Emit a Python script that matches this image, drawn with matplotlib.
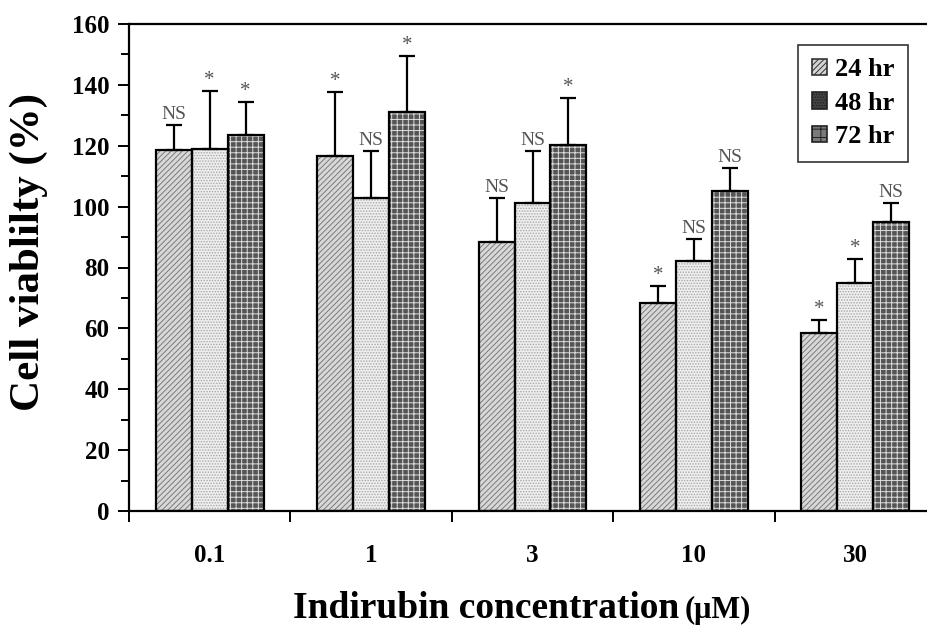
import matplotlib
matplotlib.use("Agg")
import matplotlib.pyplot as plt
from matplotlib.patches import Patch
from matplotlib.ticker import MultipleLocator, FixedLocator
import numpy as np

plt.rcParams['font.family'] = ['Liberation Serif', 'DejaVu Serif']
plt.rcParams['hatch.linewidth'] = 0.7

concentrations = ['0.1', '1', '3', '10', '30']
series = ['24 hr', '48 hr', '72 hr']
means = {
    '24 hr': [118.5, 116.7, 88.5, 68.4, 58.4],
    '48 hr': [118.8, 102.7, 101.2, 82.1, 75.0],
    '72 hr': [123.5, 131.2, 120.2, 105.0, 95.0],
}
errors = {
    '24 hr': [8.3, 21.1, 14.3, 5.6, 4.3],
    '48 hr': [19.2, 15.7, 17.2, 7.4, 7.8],
    '72 hr': [11.0, 18.4, 15.4, 7.8, 6.2],
}
marks = {
    '24 hr': ['NS', '*', 'NS', '*', '*'],
    '48 hr': ['*', 'NS', 'NS', 'NS', '*'],
    '72 hr': ['*', '*', '*', 'NS', 'NS'],
}

styles = {
    '24 hr': dict(face='#d8d8d8', hatch='//////', hcol='#7a7a7a'),
    '48 hr': dict(face='#eeeeee', hatch='......', hcol='#a8a8a8'),
    '72 hr': dict(face='#555555', hatch='+++', hcol='#dddddd'),
}

fig = plt.figure(figsize=(9.27, 6.27), dpi=100)
ax = fig.add_axes([129/927, (627-511)/627, (936-129)/927, (511-24)/627])

x = np.arange(len(concentrations))
w = 0.223
for i, s in enumerate(series):
    pos = x + (i - 1) * w
    st = styles[s]
    ax.bar(pos, means[s], width=w, color=st['face'], hatch=st['hatch'],
           edgecolor=st['hcol'], linewidth=0, zorder=2)
    ax.bar(pos, means[s], width=w, fill=False, edgecolor='black',
           linewidth=1.6, zorder=3)
    ax.errorbar(pos, means[s], yerr=[np.zeros(len(x)), errors[s]], fmt='none',
                ecolor='black', elinewidth=1.6, capsize=5.5, capthick=1.6, zorder=4)
    for p, m, e, t in zip(pos, means[s], errors[s], marks[s]):
        if t == 'NS':
            ax.text(p, m + e + 0.6, t, ha='center', va='bottom', fontsize=14,
                    color='#555555', zorder=5)
        else:
            ax.text(p, m + e + 0.3, t, ha='center', va='bottom', fontsize=15,
                    color='#555555', zorder=5)

ax.set_xlim(-0.5, 4.5)
ax.set_ylim(0, 160)
ax.yaxis.set_major_locator(MultipleLocator(20))
ax.yaxis.set_minor_locator(MultipleLocator(10))
ax.set_xticks(x)
ax.set_xticklabels(concentrations)
ax.xaxis.set_minor_locator(FixedLocator(np.arange(-0.5, 5.0, 1.0)))
ax.tick_params(axis='x', which='major', length=0, pad=24)
ax.tick_params(axis='x', which='minor', length=8, width=1.4, direction='out')
ax.tick_params(axis='y', which='major', length=8, width=1.4, direction='out', pad=6)
ax.tick_params(axis='y', which='minor', length=6, width=1.4, direction='out')
for lab in ax.get_xticklabels() + ax.get_yticklabels():
    lab.set_fontsize(18)
    lab.set_fontweight('bold')
for sp in ax.spines.values():
    sp.set_linewidth(1.6)

fig.text(29/927, 1 - 252/627, 'Cell viablilty (%)', rotation=90, ha='center',
         va='center', fontsize=31, fontweight='bold')
main = fig.text(293/927, 1 - 618/627, 'Indirubin concentration', ha='left',
                va='baseline', fontsize=27, fontweight='bold')
fig.canvas.draw()
bb = main.get_window_extent(renderer=fig.canvas.get_renderer())
fig.text((bb.x1 + 5) / 927, 1 - 618/627, '(μM)', ha='left', va='baseline',
         fontsize=22, fontweight='bold')

handles = [
    Patch(facecolor='#d4d4d4', hatch='//////', edgecolor='#333333', linewidth=1.2),
    Patch(facecolor='#444444', hatch='......', edgecolor='#222222', linewidth=1.2),
    Patch(facecolor='#7a7a7a', hatch='++', edgecolor='#222222', linewidth=1.2),
]
leg = ax.legend(handles, series, loc='upper right',
                bbox_to_anchor=(908/927, 1 - 45/627), bbox_transform=fig.transFigure,
                prop={'size': 19, 'weight': 'bold'}, frameon=True, fancybox=False,
                edgecolor='black', handlelength=0.6, handleheight=0.6,
                handletextpad=0.3, labelspacing=0.4, borderpad=0.5,
                borderaxespad=0)
leg.get_frame().set_linewidth(1.2)

fig.savefig('out.png', dpi=100)
